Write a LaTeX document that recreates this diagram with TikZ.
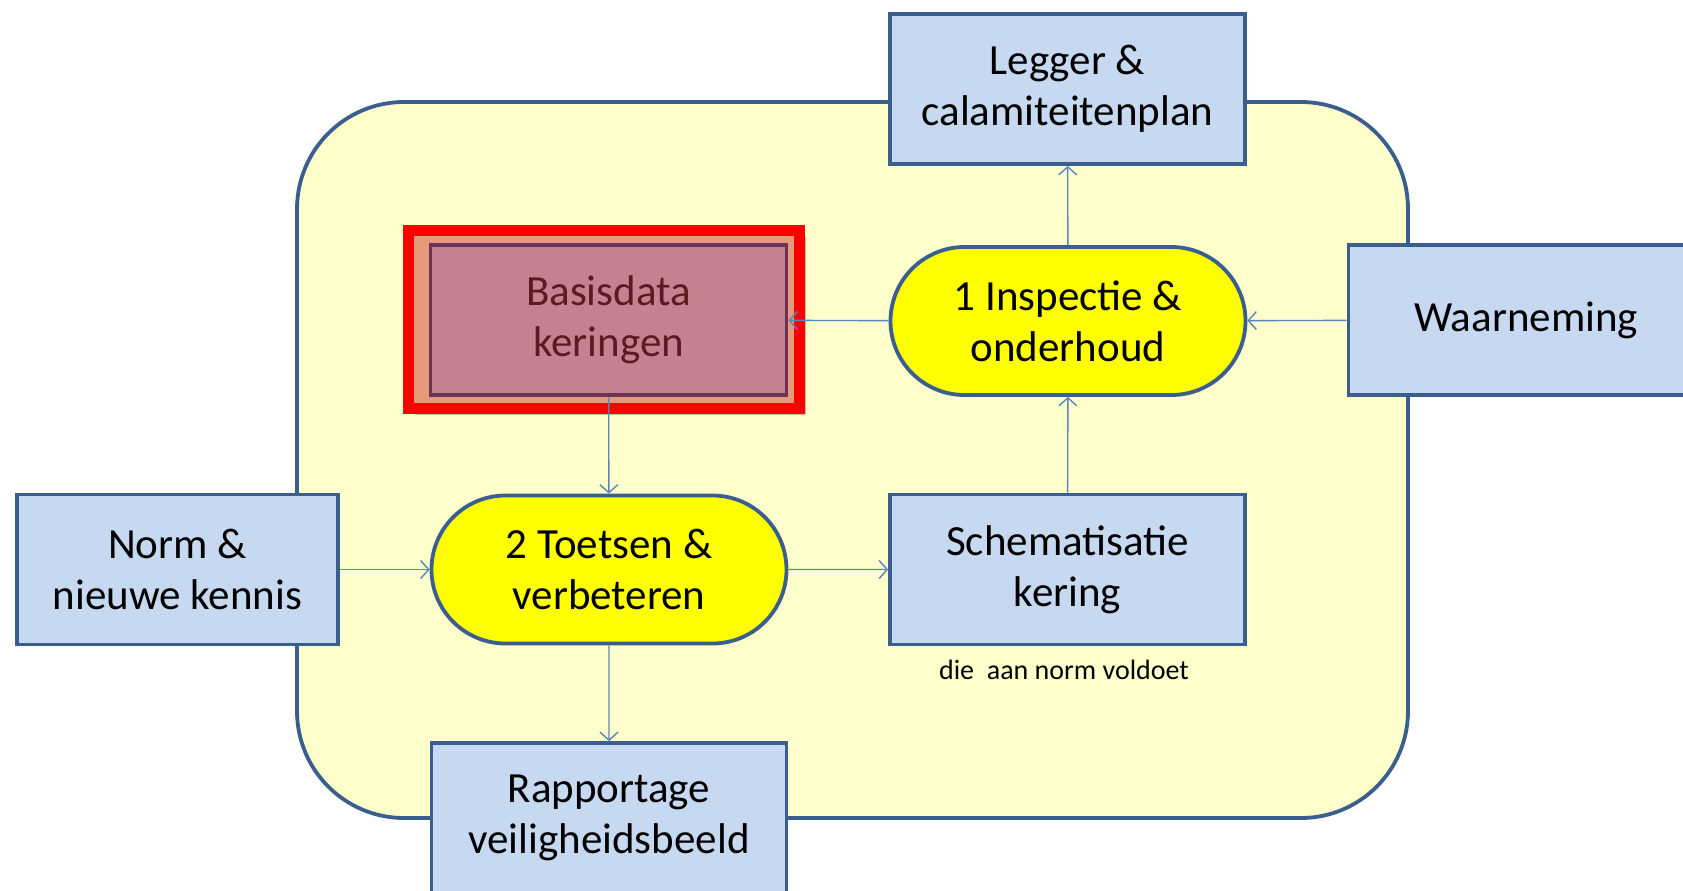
\documentclass[tikz,border=0pt]{standalone}
\usepackage{fontspec}
\setmainfont{Carlito}
\usetikzlibrary{shapes.misc,arrows.meta,shadows}
\definecolor{boxfill}{HTML}{C6D9F1}
\definecolor{boxedge}{HTML}{3A5F8E}
\definecolor{regionfill}{HTML}{FFFFCC}
\definecolor{pillfill}{HTML}{FFFF00}
\definecolor{linkblue}{HTML}{5B85BF}
\definecolor{basisfill}{HTML}{C48190}
\definecolor{basisedge}{HTML}{6B3356}
\definecolor{basistext}{HTML}{5C1A22}
\definecolor{framefill}{HTML}{E59A7C}
\begin{document}
\begin{tikzpicture}[x=0.5pt,y=-0.5pt]
    \tikzstyle{box}=[draw=boxedge, fill=boxfill, line width=1.9pt, minimum width=177.5pt, minimum height=75pt, inner sep=0pt, align=center, font=\fontsize{21.5}{25.7}\selectfont]
    \tikzstyle{pill}=[box, rounded rectangle, fill=pillfill, minimum height=74pt]
    \tikzstyle{link}=[draw=linkblue, line width=0.7pt, -{Straight Barb[length=4pt,width=9pt]}]

    \clip (0,0) rectangle (1683,890);
    \fill[white] (0,0) rectangle (1683,890);

    % background region
    \draw[fill=regionfill, draw=boxedge, line width=1.9pt, rounded corners=53.5pt] (297,102) rectangle (1408,818);

    % highlighted frame round the basis data
    \node[draw=red, fill=framefill, line width=5.5pt, minimum width=195.5pt, minimum height=89pt,
          drop shadow={shadow xshift=3pt, shadow yshift=-3pt, fill=black!45}] (frame) at (604,319.5) {};
    \node[box, draw=basisedge, fill=basisfill, text=basistext, minimum width=178pt] (basis) at (608.5,320) {Basisdata\\keringen};

    \node[box] (legger) at (1067.5,89) {Legger \&\\calamiteitenplan};
    \node[pill] (inspectie) at (1068,321) {1 Inspectie \&\\onderhoud};
    \node[box] (waarneming) at (1526,320) {Waarneming};
    \node[box, minimum width=160.5pt] (norm) at (177.5,569.5) {Norm \&\\nieuwe kennis};
    \node[pill] (toetsen) at (609,569.5) {2 Toetsen \&\\verbeteren};
    \node[box] (schema) at (1067.5,569.5) {Schematisatie\\kering};
    \node[font=\fontsize{14}{16.5}\selectfont] (voldoet) at (1064,670) {die\ \ aan norm voldoet};
    \node[box] (rapportage) at (609,818) {Rapportage\\veiligheidsbeeld};

    \draw[link] (inspectie) -- (legger);
    \draw[link] (waarneming) -- (inspectie);
    \draw[link] (inspectie) -- (basis);
    \draw[link] (basis) -- (toetsen);
    \draw[link] (norm) -- (toetsen);
    \draw[link] (toetsen) -- (schema);
    \draw[link] (schema) -- (inspectie);
    \draw[link] (toetsen) -- (rapportage);
\end{tikzpicture}
\end{document}
